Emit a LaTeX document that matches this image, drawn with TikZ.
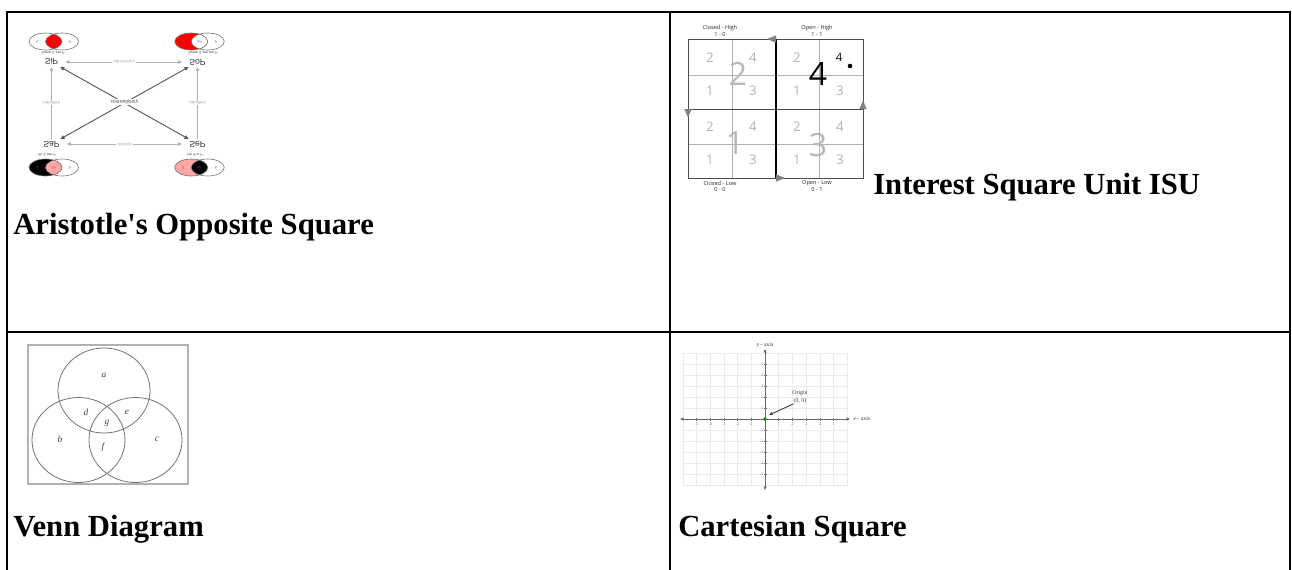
\documentclass[tikz,border=0pt]{standalone}
\usepackage{fontspec}
\usepackage{graphicx}
\setmainfont{Liberation Serif}[Ligatures=TeXOff]
\newfontfamily\arialf{Liberation Sans}
\newfontfamily\segoef{Open Sans}
\usetikzlibrary{arrows.meta}
\newcommand\flipt[1]{\scalebox{1}[-1]{#1}}
\tikzset{
  rule/.style={line width=2.2pt,black},
  caption/.style={anchor=base west,inner sep=0pt,font=\fontsize{23}{27}\selectfont\bfseries},
  vennline/.style={draw=black!55,line width=0.45pt},
  vtiny/.style={inner sep=0pt,font=\arialf\fontsize{2.6}{3}\selectfont,text=black!60},
  alab/.style={inner sep=1.2pt,font=\arialf\fontsize{6.5}{7}\selectfont,text=black!80},
  asmall/.style={inner sep=0pt,font=\arialf\fontsize{2.8}{3}\selectfont,text=black!70},
  harr/.style={draw=black!30,line width=0.5pt,{Triangle[length=3pt,width=2.6pt]}-{Triangle[length=3pt,width=2.6pt]}},
  varr/.style={draw=black!30,line width=0.5pt,-{Triangle[length=3pt,width=2.6pt]}},
  darr/.style={draw=black!65,line width=0.7pt,{Triangle[length=3.2pt,width=2.8pt]}-{Triangle[length=3.2pt,width=2.8pt]}},
  alinelab/.style={fill=white,inner sep=0.6pt,font=\arialf\fontsize{3.2}{4}\selectfont,text=black!35},
  dlinelab/.style={fill=white,inner sep=0.6pt,font=\arialf\fontsize{3.6}{4}\selectfont,text=black!75},
  isuthin/.style={draw=black!30,line width=0.5pt},
  isudark/.style={draw=black!70,line width=0.7pt},
  isumid/.style={draw=black,line width=0.8pt},
  isutri/.style={fill=black!50},
  isubig/.style={inner sep=0pt,font=\segoef\fontsize{24}{26}\selectfont},
  isusmall/.style={inner sep=0pt,font=\segoef\fontsize{10}{11}\selectfont,text=black!30},
  isulab/.style={inner sep=0pt,font=\segoef\fontsize{4.2}{5}\selectfont,text=black!85},
  vframe/.style={draw=black!30,line width=0.8pt},
  vcirc/.style={draw=black!55,line width=0.6pt},
  vletter/.style={inner sep=0pt,font=\fontsize{7}{8}\selectfont\itshape,text=black!75},
  cgrid/.style={draw=black!8,line width=0.4pt},
  caxis/.style={draw=black!60,line width=0.7pt,{Stealth[length=3pt,width=2.5pt]}-{Stealth[length=3pt,width=2.5pt]}},
  ctick/.style={inner sep=0pt,font=\fontsize{3}{3.5}\selectfont,text=black!55},
  clab/.style={inner sep=0pt,font=\fontsize{4.4}{5}\selectfont,text=black!75},
}
\newcommand\aristvenn[4]{%
  \begin{scope}[shift={(#1,#2)}]
    \fill[#3] (-8.25,0) ellipse [x radius=16.5, y radius=8.5];
    \begin{scope}
      \clip (-8.25,0) ellipse [x radius=16.5, y radius=8.5];
      \fill[#4] (8.25,0) ellipse [x radius=16.5, y radius=8.5];
    \end{scope}
    \draw[vennline] (-8.25,0) ellipse [x radius=16.5, y radius=8.5];
    \draw[vennline] (8.25,0) ellipse [x radius=16.5, y radius=8.5];
    \node[vtiny] at (-16.5,0) {\flipt{S}};
    \node[vtiny] at (16.5,0) {\flipt{P}};
    \node[vtiny] at (0,0) {\flipt{SP}};
  \end{scope}}
\begin{document}
\begin{tikzpicture}[x=0.75pt,y=-0.75pt]
\useasboundingbox (0,0) rectangle (1292,569);
% ---------------- table rules
\draw[rule] (7,572) -- (7,12) -- (1290,12) -- (1290,572);
\draw[rule] (670,12) -- (670,572);
\draw[rule] (7,332) -- (1290,332);
% ---------------- captions
\node[caption] (cap1) at (13,234) {Aristotle's Opposite Square};
\node[caption] (cap2) at (873,194) {Interest Square Unit ISU};
\node[caption] (cap3) at (13,536) {Venn Diagram};
\node[caption] (cap4) at (678,536) {Cartesian Square};
% ---------------- Aristotle's square (vertically flipped picture)
\aristvenn{53.75}{41.5}{white}{red}
\aristvenn{199.5}{41.5}{red}{white}
\aristvenn{53.75}{167.5}{black}{red!35}
\aristvenn{199.5}{167.5}{red!35}{black}
\node[asmall] (t1) at (53,52.5) {\flipt{Some S are P}};
\node[asmall] (t2) at (203,52.5) {\flipt{Some S are not P}};
\node[asmall] (t3) at (47,155) {\flipt{All S are P}};
\node[asmall] (t4) at (195,155) {\flipt{No S is P}};
\node[alab] (sip) at (51.5,62) {\flipt{SiP}};
\node[alab] (sop) at (197.5,62) {\flipt{SoP}};
\node[alab] (sap) at (51.5,144) {\flipt{SaP}};
\node[alab] (sep) at (197.5,144) {\flipt{SeP}};
\draw[harr,shorten <=4pt,shorten >=4pt] (sip) -- node[alinelab]{\flipt{subcontrary}} (sop);
\draw[harr,shorten <=4pt,shorten >=4pt] (sap) -- node[alinelab]{\flipt{contrary}} (sep);
\draw[varr] (sap) -- node[alinelab]{\flipt{subaltern}} (sip);
\draw[varr] (sep) -- node[alinelab]{\flipt{subaltern}} (sop);
\draw[darr] (sip) -- (sep);
\draw[darr] (sop) -- (sap);
\node[dlinelab] (ctr) at (124.5,102) {\flipt{contradictory}};
% ---------------- Interest Square Unit
\draw[isuthin] (732,39) -- (732,178);
\draw[isuthin] (819,39) -- (819,178);
\draw[isuthin] (688,75) -- (863,75);
\draw[isuthin] (688,144) -- (863,144);
\draw[isudark] (688,39) rectangle (863,178);
\draw[isudark] (688,109) -- (863,109);
\draw[isumid] (776,39) -- (776,178);
\fill[isutri] (767,39) -- (776,35.3) -- (776,42.7) -- cycle;
\fill[isutri] (688,117.5) -- (684.3,109) -- (691.7,109) -- cycle;
\fill[isutri] (785,178) -- (776,174.3) -- (776,181.7) -- cycle;
\fill[isutri] (863,100.5) -- (859.3,109) -- (866.7,109) -- cycle;
% small numbers
\foreach \qx in {0,87} {
  \foreach \qy in {0,69} {
    \node[isusmall] at ({710+\qx},{58+\qy}) {2};
    \node[isusmall] at ({710+\qx},{91+\qy}) {1};
    \node[isusmall] at ({753+\qx},{91+\qy}) {3};
  }
}
\node[isusmall] at (753,58) {4};
\node[isusmall] at (753,127) {4};
\node[isusmall] at (840,127) {4};
\node[isusmall,text=black,font=\segoef\fontsize{8.5}{9}\selectfont] (s4) at (839,57) {4};
\fill[black] (850,66) circle [radius=2.3];
% big numbers
\node[isubig,text=black!28] at (738,74) {2};
\node[isubig,text=black] at (818,74) {4};
\node[isubig,text=black!28] at (735,143) {1};
\node[isubig,text=black!28] at (818,145) {3};
% labels
\node[isulab] at (720,28) {Closed - High};
\node[isulab] at (720,34) {1 - 0};
\node[isulab] at (817,28) {Open - High};
\node[isulab] at (817,34) {1 - 1};
\node[isulab] at (720,183) {Closed - Low};
\node[isulab] at (720,189) {0 - 0};
\node[isulab] at (817,183) {Open - Low};
\node[isulab] at (817,189) {0 - 1};
% ---------------- Venn diagram
\draw[vframe] (28,345) rectangle (188,484);
\draw[vcirc] (104,390.5) ellipse [x radius=46, y radius=42.5];
\draw[vcirc] (78.5,440) ellipse [x radius=46.5, y radius=42.5];
\draw[vcirc] (135.5,440) ellipse [x radius=46.5, y radius=42.5];
\node[vletter] at (104,375) {a};
\node[vletter] at (60,439) {b};
\node[vletter] at (157,439) {c};
\node[vletter] at (86,412) {d};
\node[vletter] at (127,412) {e};
\node[vletter] at (103,447) {f};
\node[vletter] at (107,423) {g};
% ---------------- Cartesian square
\foreach \i in {-6,...,6} {
  \draw[cgrid] ({765+13.7*\i},353) -- ({765+13.7*\i},486);
  \draw[cgrid] (683,{419+11*\i}) -- (847,{419+11*\i});
}
\draw[caxis] (680,419) -- (850,419);
\draw[caxis] (765,349) -- (765,490);
\foreach \i in {-5,...,-1,1,2,3,4,5} {
  \draw[black!55,line width=0.4pt] ({765+13.7*\i},417.5) -- ({765+13.7*\i},420.5);
  \node[ctick] at ({765+13.7*\i},424.5) {\i};
  \draw[black!55,line width=0.4pt] (763.5,{419-11*\i}) -- (766.5,{419-11*\i});
  \node[ctick,anchor=east] at (763.5,{419-11*\i}) {\i};
}
\node[clab] (yax) at (765,345) {\textit{y} - axis};
\node[clab,anchor=west] (xax) at (853,419) {\textit{x} - axis};
\node[clab] (orig) at (800,393) {Origin};
\node[clab] (orig2) at (800,401) {(0, 0)};
\coordinate (o) at (765,419);
\fill[green!55!black] (o) circle [radius=1.8];
\draw[black!75,line width=0.7pt,-{Stealth[length=3pt,width=2.5pt]}] (orig2.south west) -- (769,415);
\end{tikzpicture}
\end{document}
